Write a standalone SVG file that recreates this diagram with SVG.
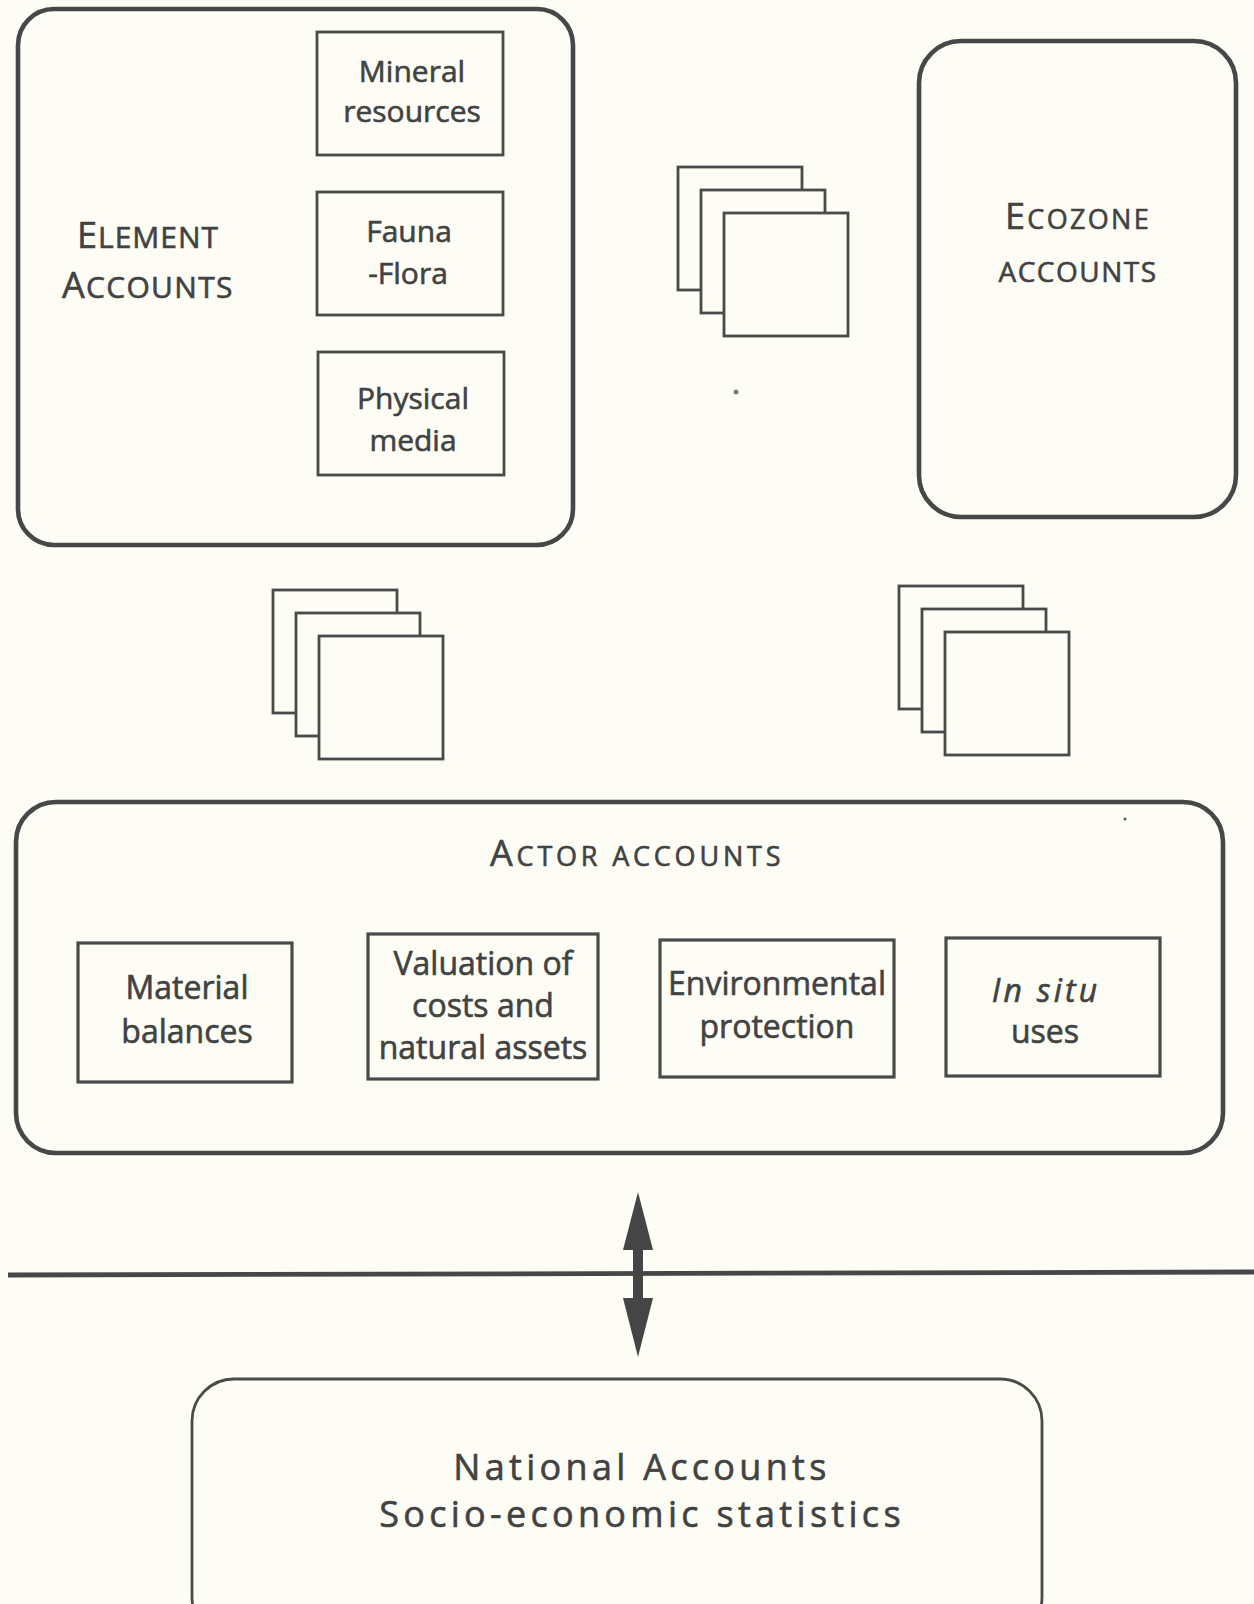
<svg xmlns="http://www.w3.org/2000/svg" width="1254" height="1604" viewBox="0 0 1254 1604">
  <style>
    .bg { fill: #fdfdf5; }
    .outer { fill: none; stroke: #474747; stroke-width: 4.6; }
    .inner { fill: none; stroke: #4a4a4a; stroke-width: 2.8; }
    .sub { fill: none; stroke: #4a4a4a; stroke-width: 3.2; }
    .page { fill: #fdfdf5; stroke: #4a4a4a; stroke-width: 2.8; }
    .lbl { font-family: "Open Sans", "Noto Sans", "DejaVu Sans", sans-serif; fill: #424242; stroke: #424242; stroke-width: 0.6; }
    .box30 { font-size: 30px; text-anchor: middle; }
    .box32 { font-size: 32px; text-anchor: middle; }
    .cap { font-size: 36px; }
    .sc { font-size: 30px; }
    .nat { font-size: 36px; text-anchor: middle; letter-spacing: 4.3px; }
  </style>
  <defs>
    <!-- three overlapping account sheets -->
    <g id="stack">
      <rect class="page" x="0" y="0" width="124" height="123"/>
      <rect class="page" x="23" y="23" width="124" height="123"/>
      <rect class="page" x="46" y="46" width="124" height="123"/>
    </g>
  </defs>

  <rect class="bg" x="0" y="0" width="1254" height="1604"/>

  <!-- Element accounts -->
  <g id="element-accounts">
    <rect class="outer" x="18" y="9" width="555" height="536" rx="36"/>
    <text class="lbl" x="77" y="248" letter-spacing="1"><tspan class="cap">E</tspan><tspan class="sc">LEMENT</tspan></text>
    <text class="lbl" x="62" y="298" letter-spacing="1.3"><tspan class="cap">A</tspan><tspan class="sc">CCOUNTS</tspan></text>
  </g>
  <g id="mineral-resources">
    <rect class="inner" x="317" y="32" width="186" height="123"/>
    <text class="lbl box30" x="412" y="82">Mineral</text>
    <text class="lbl box30" x="412" y="122">resources</text>
  </g>
  <g id="fauna-flora">
    <rect class="inner" x="317" y="192" width="186" height="123"/>
    <text class="lbl box30" x="409" y="242">Fauna</text>
    <text class="lbl box30" x="408" y="284">-Flora</text>
  </g>
  <g id="physical-media">
    <rect class="inner" x="318" y="352" width="186" height="123"/>
    <text class="lbl box30" x="413" y="409">Physical</text>
    <text class="lbl box30" x="413" y="451">media</text>
  </g>

  <!-- Ecozone accounts -->
  <g id="ecozone-accounts">
    <rect class="outer" x="919" y="41" width="317" height="476" rx="42"/>
    <text class="lbl" x="1078" y="229" text-anchor="middle" letter-spacing="2.3"><tspan class="cap">E</tspan><tspan font-size="27px">COZONE</tspan></text>
    <text class="lbl" x="1078" y="282" text-anchor="middle" letter-spacing="1.5" font-size="28px">ACCOUNTS</text>
  </g>

  <!-- Stacked account sheets -->
  <g id="sheets-top"><use href="#stack" x="678" y="167"/></g>
  <g id="sheets-left"><use href="#stack" x="273" y="590"/></g>
  <g id="sheets-right"><use href="#stack" x="899" y="586"/></g>
  <circle cx="736" cy="392" r="2.5" fill="#7a7a7a"/>

  <!-- Actor accounts -->
  <g id="actor-accounts">
    <rect class="outer" x="16" y="802" width="1207" height="351" rx="40"/>
    <text class="lbl" x="490" y="866" letter-spacing="3.8"><tspan class="cap">A</tspan><tspan font-size="27px">CTOR ACCOUNTS</tspan></text>
    <circle cx="1125" cy="819" r="1.5" fill="#555"/>
  </g>
  <g id="material-balances">
    <rect class="sub" x="78" y="943" width="214" height="139"/>
    <text class="lbl box32" x="187" y="999">Material</text>
    <text class="lbl box32" x="187" y="1043">balances</text>
  </g>
  <g id="valuation">
    <rect class="sub" x="368" y="934" width="230" height="145"/>
    <text class="lbl box32" x="483" y="975">Valuation of</text>
    <text class="lbl box32" x="483" y="1017">costs and</text>
    <text class="lbl box32" x="483" y="1059">natural assets</text>
  </g>
  <g id="environmental-protection">
    <rect class="sub" x="660" y="940" width="234" height="137"/>
    <text class="lbl box32" x="777" y="995">Environmental</text>
    <text class="lbl box32" x="777" y="1038">protection</text>
  </g>
  <g id="in-situ-uses">
    <rect class="sub" x="946" y="938" width="214" height="138"/>
    <text class="lbl box32" x="1046" y="1002" font-style="italic" letter-spacing="3.2">In situ</text>
    <text class="lbl box32" x="1045" y="1043">uses</text>
  </g>

  <!-- Boundary line and two-way link -->
  <g id="connectors">
    <line x1="8" y1="1275" x2="1254" y2="1272" stroke="#474747" stroke-width="4.8"/>
    <rect x="633" y="1245" width="10" height="58" fill="#454545"/>
    <polygon points="638,1192 653,1250 623,1250" fill="#454545"/>
    <polygon points="623,1298 653,1298 638,1357" fill="#454545"/>
  </g>

  <!-- National accounts -->
  <g id="national-accounts">
    <rect class="inner" x="192" y="1379" width="850" height="260" rx="42"/>
    <text class="lbl nat" x="642" y="1480">National Accounts</text>
    <text class="lbl nat" x="642" y="1527">Socio-economic statistics</text>
  </g>
</svg>
